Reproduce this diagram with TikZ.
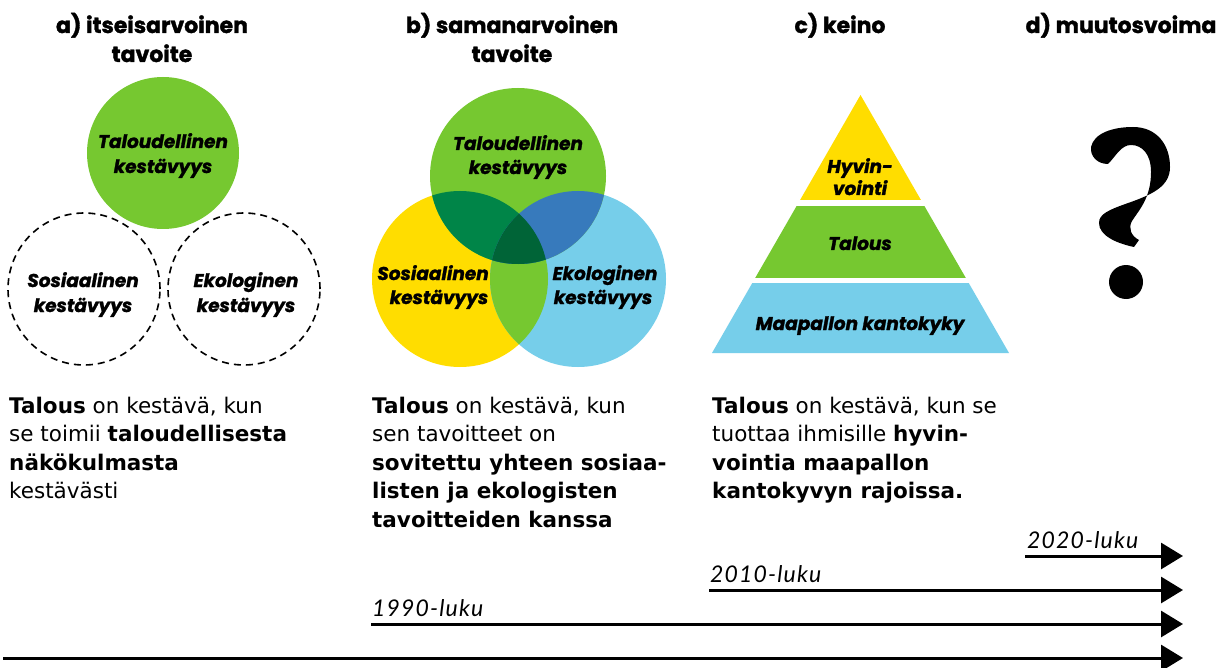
\documentclass[tikz,border=0pt]{standalone}
\usepackage{fontspec}
\setmainfont{DejaVu Sans}
\newfontfamily\headfont{Poppins}[BoldFeatures={FakeBold=1.5},BoldItalicFeatures={FakeBold=1.5}]
\newfontfamily\yearfont{Lato}[ItalicFeatures={LetterSpace=5}]
\usetikzlibrary{arrows.meta}
\definecolor{cgreen}{RGB}{118,200,48}
\definecolor{cyellow}{RGB}{255,221,0}
\definecolor{cblue}{RGB}{118,206,234}
\definecolor{cdgreen}{RGB}{0,133,72}
\definecolor{cmblue}{RGB}{55,122,188}
\definecolor{cddgreen}{RGB}{0,100,55}
\tikzset{
  head/.style={font=\headfont\bfseries\fontsize{22}{24}\selectfont, anchor=base, inner sep=0pt},
  lab/.style={font=\headfont\bfseries\itshape\fontsize{18.5}{20}\selectfont, anchor=base, inner sep=0pt},
  body/.style={font=\fontsize{21.5}{25}\selectfont, anchor=base west, inner sep=0pt},
  year/.style={font=\yearfont\itshape\fontsize{23}{26}\selectfont, anchor=base west, inner sep=0pt},
  arr/.style={line width=3pt, -{Triangle[length=22pt,width=26pt]}},
  filledcirc/.style={circle, minimum size=152pt, inner sep=0pt},
  dcirc/.style={circle, draw, line width=1.6pt, dash pattern=on 7pt off 5pt, minimum size=152pt, inner sep=0pt},
  venn/.style={circle, minimum size=176pt, inner sep=0pt},
}
\begin{document}
\begin{tikzpicture}[x=1pt,y=-1pt]
\useasboundingbox[fill=white] (0,0) rectangle (1225,668);

% ---------- headers
\node[head] (ha1) at (152,33) {a) itseisarvoinen};
\node[head] (ha2) at (152,62) {tavoite};
\node[head] (hb1) at (512,33) {b) samanarvoinen};
\node[head] (hb2) at (512,62) {tavoite};
\node[head] (hc1) at (840,33) {c) keino};
\node[head] (hd1) at (1121,33) {d) muutosvoima};

% ---------- a) circles
\node[filledcirc, fill=cgreen] (aT) at (163,153) {};
\node[dcirc] (aS) at (84,289) {};
\node[dcirc] (aE) at (244,289) {};
\node[lab] (aT1) at (163,148) {Taloudellinen};
\node[lab] (aT2) at (163,173) {kestävyys};
\node[lab] (aS1) at (83,287) {Sosiaalinen};
\node[lab] (aS2) at (83,312) {kestävyys};
\node[lab] (aE1) at (246,287) {Ekologinen};
\node[lab] (aE2) at (246,312) {kestävyys};

% ---------- b) Venn
\node[venn, fill=cyellow] (vS) at (460,279) {};
\node[venn, fill=cblue] (vE) at (578,279) {};
\begin{scope}
  \clip (460,279) circle[radius=88pt];
  \fill[cgreen] (578,279) circle[radius=88pt];
\end{scope}
\node[venn, fill=cgreen] (vT) at (518,176) {};
\begin{scope}
  \clip (518,176) circle[radius=88pt];
  \fill[cdgreen] (460,279) circle[radius=88pt];
  \fill[cmblue] (578,279) circle[radius=88pt];
  \clip (460,279) circle[radius=88pt];
  \fill[cddgreen] (578,279) circle[radius=88pt];
\end{scope}
\node[lab] (vT1) at (518,150) {Taloudellinen};
\node[lab] (vT2) at (518,174) {kestävyys};
\node[lab] (vS1) at (433,280) {Sosiaalinen};
\node[lab] (vS2) at (439,304) {kestävyys};
\node[lab] (vE1) at (605,280) {Ekologinen};
\node[lab] (vE2) at (603,304) {kestävyys};

% ---------- c) pyramid
\begin{scope}
  \clip (860.5,95) -- (1009,353) -- (712,353) -- cycle;
  \fill[cyellow] (700,90) rectangle (1020,200);
  \fill[cgreen] (700,206) rectangle (1020,278);
  \fill[cblue] (700,283) rectangle (1020,354);
\end{scope}
\node[lab] (p1) at (860,173) {Hyvin-};
\node[lab] (p2) at (860,195) {vointi};
\node[lab] (p3) at (860,250) {Talous};
\node[lab] (p4) at (860,330) {Maapallon kantokyky};

% ---------- d) question mark
\fill (1108,164) .. controls (1097,164) and (1090,156) .. (1091,147)
  .. controls (1094,133) and (1113,127) .. (1133,127)
  .. controls (1157,127) and (1170,145) .. (1170,167)
  .. controls (1170,186) and (1153,194) .. (1131,202)
  .. controls (1108,210) and (1099,214) .. (1099,223)
  .. controls (1099,235) and (1115,243) .. (1134,247)
  -- (1139,240)
  .. controls (1131,236) and (1128,228) .. (1132,221)
  .. controls (1139,210) and (1151,198) .. (1151,172)
  .. controls (1151,154) and (1142,145) .. (1131,145)
  .. controls (1121,145) and (1116,156) .. (1108,164) -- cycle;
\fill (1126,282) circle[radius=17pt];

% ---------- body texts
\node[body] (ta1) at (9,413) {\textbf{Talous} on kestävä, kun};
\node[body] (ta2) at (9,441.5) {se toimii \textbf{taloudellisesta}};
\node[body] (ta3) at (9,470) {\textbf{näkökulmasta}};
\node[body] (ta4) at (9,498.5) {kestävästi};

\node[body] (tb1) at (372,413) {\textbf{Talous} on kestävä, kun};
\node[body] (tb2) at (372,441.5) {sen tavoitteet on};
\node[body] (tb3) at (372,470) {\textbf{sovitettu yhteen sosiaa-}};
\node[body] (tb4) at (372,498.5) {\textbf{listen ja ekologisten}};
\node[body] (tb5) at (372,527) {\textbf{tavoitteiden kanssa}};

\node[body] (tc1) at (712,413) {\textbf{Talous} on kestävä, kun se};
\node[body] (tc2) at (712,441.5) {tuottaa ihmisille \textbf{hyvin-}};
\node[body] (tc3) at (712,470) {\textbf{vointia maapallon}};
\node[body] (tc4) at (712,498.5) {\textbf{kantokyvyn rajoissa.}};

% ---------- timeline arrows
\coordinate (s20) at (1025,556);
\coordinate (e20) at (1183,556);
\coordinate (s10) at (709,590);
\coordinate (e10) at (1183,590);
\coordinate (s90) at (371,624);
\coordinate (e90) at (1183,624);
\coordinate (s00) at (3,658);
\coordinate (e00) at (1183,658);
\draw[arr] (s20) -- (e20);
\draw[arr] (s10) -- (e10);
\draw[arr] (s90) -- (e90);
\draw[arr] (s00) -- (e00);
\node[year] (y20) at (1027,548) {2020-luku};
\node[year] (y10) at (710,582) {2010-luku};
\node[year] (y90) at (372,616) {1990-luku};
\end{tikzpicture}
\end{document}
